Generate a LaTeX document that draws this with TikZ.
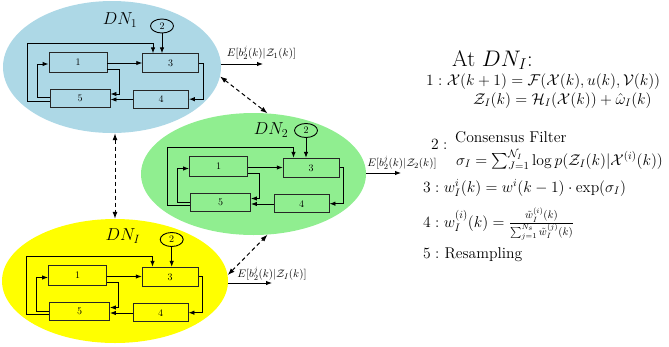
\documentclass[tikz,border=0pt]{standalone}
\usepackage{amsmath,amssymb}
\usetikzlibrary{shapes.geometric,arrows.meta}
\definecolor{lblue}{RGB}{173,216,230}
\definecolor{lgreen}{RGB}{144,238,144}
\definecolor{lyellow}{RGB}{255,255,0}
\tikzset{
  ell/.style={ellipse,draw=none,inner sep=0pt},
  box/.style={draw=black!85,line width=0.9pt,inner sep=0pt,font=\fontsize{10}{12}\selectfont},
  circ/.style={ellipse,draw=black,line width=0.9pt,inner sep=0pt,minimum width=23pt,minimum height=14pt,font=\fontsize{10}{12}\selectfont},
  arr/.style={-{Latex[length=6pt,width=4.5pt]},line width=0.9pt},
  darr/.style={{Latex[length=7pt,width=5pt]}-{Latex[length=7pt,width=5pt]},line width=1pt,dash pattern=on 4pt off 3pt},
  dnlab/.style={inner sep=0pt,font=\fontsize{17.28}{20}\selectfont},
  elab/.style={inner sep=0pt,font=\fontsize{10.95}{12}\selectfont},
  eq/.style={inner sep=0pt,anchor=base west,scale=1.085,transform shape,font=\fontsize{14.4}{18}\selectfont},
}
\newcommand\dnblock[4]{%
\begin{scope}[shift={(#2,#3)}]
\node[box,minimum width=58pt,minimum height=20pt] (#1a) at (0,0) {1};
\node[box,minimum width=56pt,minimum height=19pt] (#1c) at (92.7,1.3) {3};
\node[box,minimum width=60pt,minimum height=18pt] (#1e) at (2,36.2) {5};
\node[box,minimum width=55pt,minimum height=18pt] (#1d) at (83,37.3) {4};
\node[circ] (#1b) at (#4,-36) {2};
\draw[arr] (#1b.south) -- (#1c.north -| #1b.south);
\draw[arr] (#1e.west |- 0,39) -- (-51,39) |- (75,-18.7) -- (#1c.north -| 75,0);
\draw[arr] (#1e.west |- 0,35.5) -- (-41,35.5) |- (#1a.west |- 0,2);
\draw[arr] (#1a.east |- 0,1) -- (#1c.west |- 0,1);
\draw[arr] (#1a.east |- 0,7) -- (41.3,7) |- (#1e.east |- 0,32);
\draw[arr] (#1d.west |- 0,37.5) -- (#1e.east |- 0,37.5);
\draw[arr] (#1c.east |- 0,1) -- (125,1) |- (#1d.east |- 0,37.2);
\end{scope}}
\begin{document}
\begin{tikzpicture}[x=1pt,y=-1pt]
\useasboundingbox (0,0) rectangle (669,346);
% ellipses
\node[ell,fill=lblue,minimum width=218pt,minimum height=132pt] (E1) at (112,67) {};
\node[ell,fill=lgreen,minimum width=225pt,minimum height=122pt] (E2) at (253.5,174) {};
\node[ell,fill=lyellow,minimum width=226pt,minimum height=124pt] (E3) at (115,281) {};
% labels
\node[dnlab] (L1) at (120,20) {$DN_1$};
\node[dnlab] (L2) at (271,130) {$DN_2$};
\node[dnlab] (L3) at (123,236) {$DN_I$};
% blocks
\dnblock{p}{78}{62}{84}
\dnblock{q}{218.5}{166.5}{87.5}
\dnblock{r}{77.5}{275.5}{94.2}
% outputs
\coordinate (o1) at (263,64);
\coordinate (o2) at (401,173);
\coordinate (o3) at (272,283);
\draw[arr] (E1.east |- o1) -- (o1);
\draw[arr] (E2.east |- o2) -- (o2);
\draw[arr] (E3.east |- o3) -- (o3);
\node[elab] (t1) at (261.5,53) {$E[b_2^j(k)|\mathcal{Z}_1(k)]$};
\node[elab] (t2) at (402,163) {$E[b_2^j(k)|\mathcal{Z}_2(k)]$};
\node[elab] (t3) at (272,274) {$E[b_2^j(k)|\mathcal{Z}_I(k)]$};
% dashed links
\draw[darr] (E1.-5.3) -- (E2.77.9);
\draw[darr] (E3.north |- E1.south) -- (E3.north);
\draw[darr] (E3.3) -- (E2.-77);
% right text
\node[eq,scale=1,font=\fontsize{20.74}{24}\selectfont] (h) at (452,66) {At $DN_I$:};
\node[eq] (s1) at (426,85) {$1:\mathcal{X}(k+1)=\mathcal{F}(\mathcal{X}(k),u(k),\mathcal{V}(k))$};
\node[eq] (s1b) at (473,104) {$\mathcal{Z}_I(k)=\mathcal{H}_I(\mathcal{X}(k))+\hat{\omega}_I(k)$};
\node[eq] (s2) at (431,149) {$2:$};
\node[eq] (s2a) at (455,142) {Consensus Filter};
\node[eq] (s2b) at (456,165) {$\sigma_I=\sum_{J=1}^{\mathcal{N}_I}\log p(\mathcal{Z}_I(k)|\mathcal{X}^{(i)}(k))$};
\node[eq] (s3) at (423,192) {$3: w_I^i(k)=w^i(k-1)\cdot\exp(\sigma_I)$};
\node[eq] (s4) at (423,227) {$4: w_I^{(i)}(k)=\frac{\tilde{w}_I^{(i)}(k)}{\sum_{j=1}^{N_s}\tilde{w}_I^{(j)}(k)}$};
\node[eq] (s5) at (423,258) {$5:$ Resampling};
\end{tikzpicture}
\end{document}
